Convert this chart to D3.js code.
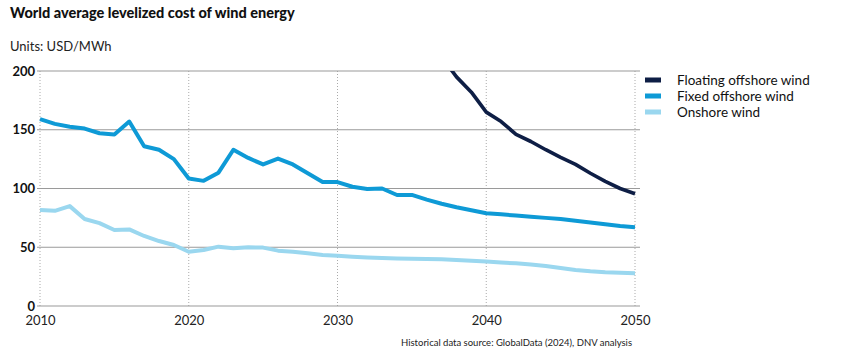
<!DOCTYPE html>
<html>
<head>
<meta charset="utf-8">
<script src="https://cdn.jsdelivr.net/npm/d3@7"></script>
<style>
  body { margin: 0; background: #fff; }
  svg { font-family: Lato, "Open Sans", sans-serif; }
</style>
</head>
<body>
<div id="chart"></div>
<script>
// chart values
const years = d3.range(2010, 2051);
const fixedOffshore = [159, 155, 152.5, 151, 147, 146, 157, 136, 133, 125,
  108.5, 106.5, 113.5, 133, 126, 120.5, 125.5, 120.5, 113, 105.5,
  105.5, 101.5, 99.5, 100, 94.5, 94.5, 90.5, 87, 84, 81.5,
  79, 78, 77, 76, 75, 74, 72.5, 71, 69.5, 68, 67];
const onshore = [81.7, 81, 85, 74, 70.5, 64.7, 65.2, 59.6, 55.3, 51.9,
  46.2, 47.7, 50.5, 49.1, 50, 49.7, 47.1, 46.2, 44.8, 43.4,
  42.8, 42, 41.3, 40.8, 40.5, 40.3, 40, 39.7, 39.2, 38.5,
  37.8, 37, 36.3, 35.3, 34, 32.3, 30.7, 29.5, 28.7, 28.2, 27.8];
const floatingYears = d3.range(2037, 2051);
const floatingOffshore = [212, 195, 182, 165, 157, 146, 140, 133, 126.5, 120.5, 113, 106, 100, 95.5];

const seriesNames = ["Floating offshore wind", "Fixed offshore wind", "Onshore wind"];
const seriesColors = ["#0e1e45", "#0e9ad6", "#9ad7ef"];
const yTicks = [0, 50, 100, 150, 200];
const xTicks = [2010, 2020, 2030, 2040, 2050];

const width = 847, height = 353;
const margin = { top: 71, right: 212, bottom: 47, left: 40 };
const innerW = width - margin.left - margin.right;
const innerH = height - margin.top - margin.bottom;

const svg = d3.select("#chart").append("svg")
  .attr("width", width)
  .attr("height", height);

svg.append("text")
  .attr("x", 10).attr("y", 18)
  .style("font-size", "14.5px").style("font-weight", 900).style("fill", "#111")
  .text("World average levelized cost of wind energy");

svg.append("text")
  .attr("x", 10).attr("y", 51)
  .style("font-size", "13px").style("fill", "#222")
  .text("Units: USD/MWh");

const g = svg.append("g").attr("transform", `translate(${margin.left},${margin.top})`);

const x = d3.scaleLinear().domain([2010, 2050]).range([0, innerW]);
const y = d3.scaleLinear().domain([0, 200]).range([innerH, 0]);

// vertical dotted grid
g.selectAll("line.vgrid")
  .data(xTicks)
  .join("line")
  .attr("class", "vgrid")
  .attr("x1", d => x(d)).attr("x2", d => x(d))
  .attr("y1", 0).attr("y2", innerH)
  .attr("stroke", "#aaa")
  .attr("stroke-dasharray", "1,2");

// horizontal grid
g.selectAll("line.hgrid")
  .data(yTicks)
  .join("line")
  .attr("class", "hgrid")
  .attr("x1", -3).attr("x2", innerW + 5)
  .attr("y1", d => y(d)).attr("y2", d => y(d))
  .attr("stroke", "#9a9a9a")
  .attr("stroke-width", 1.2);

// y axis labels
const yAxis = g.append("g")
  .call(d3.axisLeft(y).tickValues(yTicks).tickSize(0).tickPadding(5));
yAxis.select(".domain").remove();
yAxis.selectAll("text")
  .style("font-size", "13px").style("font-weight", 700)
  .style("font-family", "Lato, sans-serif").attr("fill", "#111");

// x axis labels
const xAxis = g.append("g")
  .attr("transform", `translate(0,${innerH})`)
  .call(d3.axisBottom(x).tickValues(xTicks).tickFormat(d3.format("d")).tickSize(0).tickPadding(10));
xAxis.select(".domain").remove();
xAxis.selectAll("text")
  .style("font-size", "13px")
  .style("font-family", "Lato, sans-serif").attr("fill", "#222");

g.append("clipPath").attr("id", "plot-clip")
  .append("rect").attr("x", -5).attr("y", 0).attr("width", innerW + 10).attr("height", innerH);

const line = d3.line()
  .x(d => x(d[0]))
  .y(d => y(d[1]));

const lines = [
  { data: d3.zip(years, onshore), color: seriesColors[2], w: 4 },
  { data: d3.zip(years, fixedOffshore), color: seriesColors[1], w: 4 },
  { data: d3.zip(floatingYears, floatingOffshore), color: seriesColors[0], w: 3.6 }
];

g.append("g").attr("clip-path", "url(#plot-clip)")
  .selectAll("path")
  .data(lines)
  .join("path")
  .attr("d", d => line(d.data))
  .attr("fill", "none")
  .attr("stroke", d => d.color)
  .attr("stroke-width", d => d.w)
  .attr("stroke-linejoin", "round");

// legend
const legend = svg.append("g").attr("transform", "translate(645,80)");
seriesNames.forEach((name, i) => {
  const row = legend.append("g").attr("transform", `translate(0,${i * 16})`);
  row.append("rect")
    .attr("x", 0).attr("y", -2.5).attr("width", 16).attr("height", 5)
    .attr("fill", seriesColors[i]);
  row.append("text")
    .attr("x", 32).attr("y", 5)
    .style("font-size", "13.5px").style("fill", "#111")
    .text(name);
});

svg.append("text")
  .attr("x", 632).attr("y", 346)
  .attr("text-anchor", "end")
  .style("font-size", "9.5px").style("fill", "#222")
  .text("Historical data source: GlobalData (2024), DNV analysis");
</script>
</body>
</html>
